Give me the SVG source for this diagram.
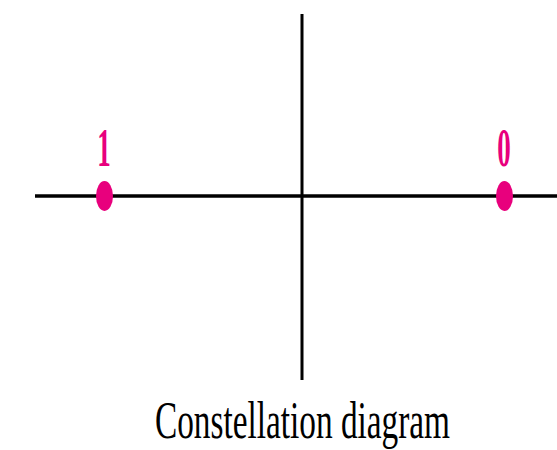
<svg xmlns="http://www.w3.org/2000/svg" width="557" height="450" viewBox="0 0 557 450">
<style>
.axis{stroke:#000;stroke-width:3.5;fill:none}
.pt{fill:#E8007D}
.lbl{font-family:"Liberation Serif",serif;font-size:54px;font-weight:bold;fill:#E8007D;text-anchor:middle}
.cap{font-family:"Liberation Serif",serif;font-size:52px;fill:#000}
</style>
<rect width="557" height="450" fill="#fff"/>
<g id="axes">
<line class="axis" x1="35" y1="196" x2="557" y2="196"/>
<line class="axis" x1="302" y1="14" x2="302" y2="380" style="stroke-width:3"/>
</g>
<g id="point1">
<ellipse class="pt" cx="104.5" cy="196" rx="8.5" ry="15"/>
<text class="lbl" x="104" y="166" transform="translate(104 0) scale(0.5 1) translate(-104 0)">1</text>
</g>
<g id="point0">
<ellipse class="pt" cx="504.5" cy="196" rx="8.5" ry="15"/>
<text class="lbl" x="504" y="166" transform="translate(504 0) scale(0.5 1) translate(-504 0)">0</text>
</g>
<g id="caption">
<text class="cap" x="155" y="438" textLength="295" lengthAdjust="spacingAndGlyphs">Constellation diagram</text>
</g>
</svg>
